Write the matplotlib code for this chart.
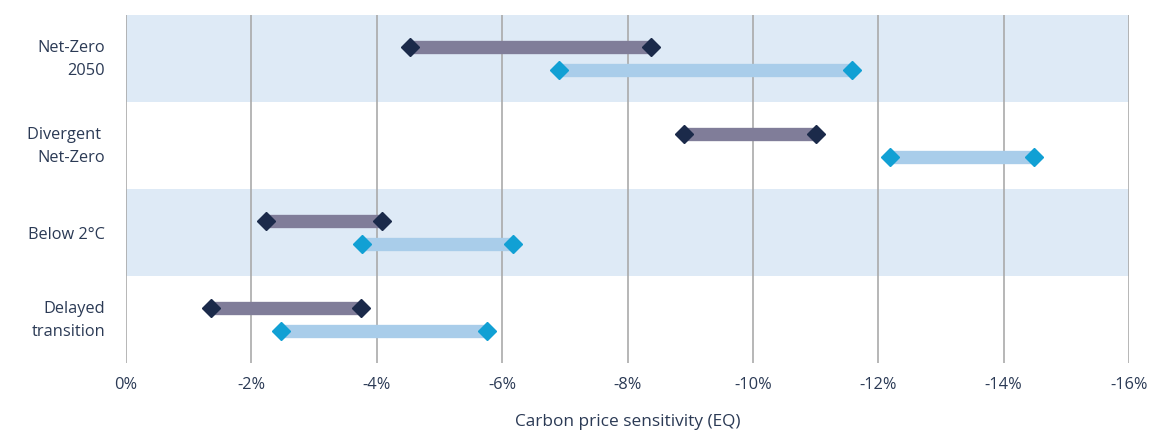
import matplotlib
matplotlib.use("Agg")
import matplotlib.pyplot as plt
from matplotlib.transforms import ScaledTranslation

scenarios = ["Net-Zero\n2050", "Divergent \nNet-Zero", "Below 2°C", "Delayed\ntransition"]
dark_low = [-4.53, -8.90, -2.23, -1.36]
dark_high = [-8.37, -11.00, -4.08, -3.75]
light_low = [-6.91, -12.18, -3.76, -2.47]
light_high = [-11.58, -14.48, -6.17, -5.76]
xticks = [0, -2, -4, -6, -8, -10, -12, -14, -16]
xticklabels = ["0%", "-2%", "-4%", "-6%", "-8%", "-10%", "-12%", "-14%", "-16%"]

plt.rcParams['font.family'] = ['Open Sans', 'DejaVu Sans']
txt = "#2b3a55"
band = "#deeaf6"
dark_bar = "#807d99"
dark_mk = "#1b2a4a"
light_bar = "#a9cdea"
light_mk = "#11a0d4"

fig = plt.figure(figsize=(11.64, 4.36), dpi=100)
ax = fig.add_axes([126/1164, 1 - 363/436, (1129-126)/1164, (363-15)/436])

n = len(scenarios)
for i in range(n):
    if i % 2 == 0:
        ax.axhspan(i - 0.5, i + 0.5, color=band, zorder=0, lw=0)

for x in xticks:
    ax.axvline(x, color="#aaaaaa", lw=1.2, zorder=1)

off = 0.137
for i in range(n):
    yd = i - off
    yl = i + off
    ax.plot([dark_low[i], dark_high[i]], [yd, yd], color=dark_bar, lw=9.6,
            solid_capstyle='butt', zorder=2)
    ax.plot([dark_low[i], dark_high[i]], [yd, yd], ls='none', marker='D',
            ms=8.8, color=dark_mk, zorder=3)
    ax.plot([light_low[i], light_high[i]], [yl, yl], color=light_bar, lw=9.6,
            solid_capstyle='butt', zorder=2)
    ax.plot([light_low[i], light_high[i]], [yl, yl], ls='none', marker='D',
            ms=8.8, color=light_mk, zorder=3)

ax.set_xlim(0, -16)
ax.set_ylim(n - 0.5, -0.5)
ax.set_xticks(xticks)
ax.set_xticklabels(xticklabels, fontsize=11.8, color=txt)
ax.set_yticks(range(n))
ax.set_yticklabels(scenarios, fontsize=11.8, color=txt, linespacing=1.6, ha='right')
ax.tick_params(axis='both', length=0)
ax.tick_params(axis='y', pad=15)
ax.tick_params(axis='x', pad=10)
for lab in ax.get_yticklabels():
    if "\n" in lab.get_text():
        lab.set_transform(lab.get_transform() + ScaledTranslation(0, 5/100, fig.dpi_scale_trans))
for s in ax.spines.values():
    s.set_visible(False)
ax.set_xlabel("Carbon price sensitivity (EQ)", fontsize=12.4, color=txt, labelpad=15)

fig.savefig("out.png", dpi=100)
